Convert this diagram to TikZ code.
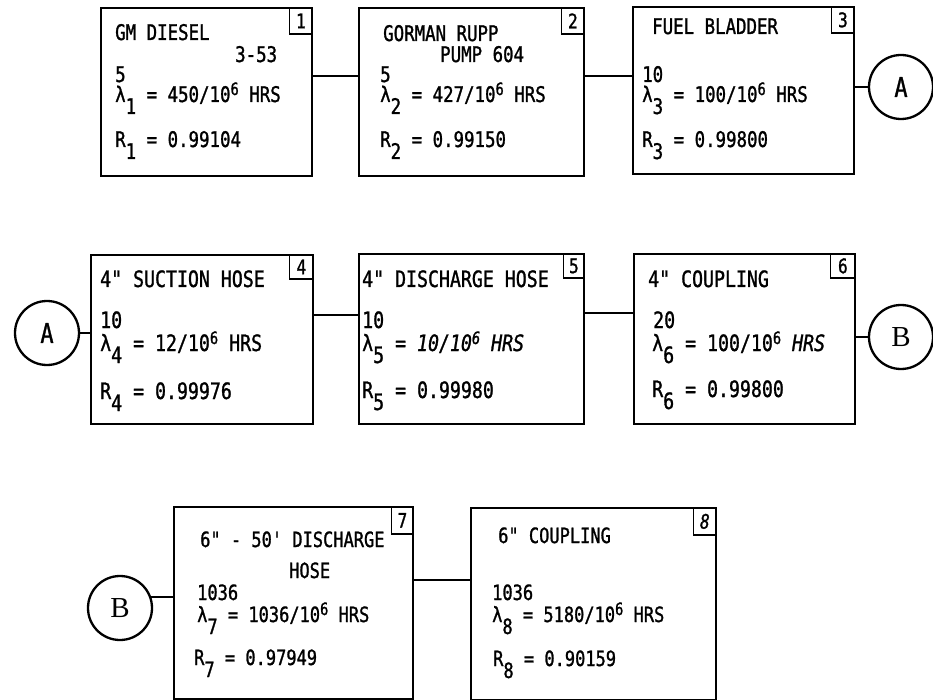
\documentclass[tikz,border=0pt]{standalone}
\usepackage{fontspec}
\newfontfamily\mono[FakeStretch=0.81, FakeBold=1.2]{DejaVu Sans Mono}
\newfontfamily\serifB{Liberation Serif}
\newcommand\sbx[1]{\raisebox{-12pt}{#1}}
\newcommand\spx[1]{\raisebox{7pt}{\fontsize{17}{17}\selectfont #1}}
\begin{document}
\begin{tikzpicture}[x=1pt,y=-1pt,
  blk/.style={draw, line width=2.3pt, anchor=north west, inner sep=0pt},
  num/.style={draw, line width=1.8pt, anchor=north east, inner sep=0pt, minimum width=23pt, minimum height=26pt, font=\mono\fontsize{20}{20}\selectfont},
  txta/.style={anchor=base west, inner sep=0pt, font=\mono\fontsize{21.5}{21.5}\selectfont},
  txtb/.style={anchor=base west, inner sep=0pt, font=\mono\fontsize{22.5}{22.5}\selectfont},
  txtc/.style={anchor=base west, inner sep=0pt, font=\mono\fontsize{21}{21}\selectfont},
  circ/.style={draw, circle, line width=2.3pt, minimum size=64pt, inner sep=0pt},
  conn/.style={line width=2.3pt}]
\path[use as bounding box, fill=white] (0,0) rectangle (933,700);

% ---------- row 1 ----------
\node[blk, minimum width=211pt, minimum height=168pt] (b1) at (100,7) {};
\node[blk, minimum width=225pt, minimum height=168pt] (b2) at (358,7) {};
\node[blk, minimum width=221pt, minimum height=167pt] (b3) at (632,6) {};
\node[num] (n1) at (b1.north east) {1};
\node[num] (n2) at (b2.north east) {2};
\node[num] (n3) at (b3.north east) {3};

\node[txta] (t1a) at (115,40) {GM DIESEL};
\node[txta] (t1b) at (235,62) {3-53};
\node[txta] (t1c) at (115,82) {5};
\node[txta] (t1d) at (115,102) {λ\sbx{1} = 450/10\spx{6} HRS};
\node[txta] (t1e) at (115,147) {R\sbx{1} = 0.99104};

\node[txta] (t2a) at (383,41) {GORMAN RUPP};
\node[txta] (t2b) at (440,62) {PUMP 604};
\node[txta] (t2c) at (380,82) {5};
\node[txta] (t2d) at (380,102) {λ\sbx{2} = 427/10\spx{6} HRS};
\node[txta] (t2e) at (380,147) {R\sbx{2} = 0.99150};

\node[txta] (t3a) at (652,34) {FUEL BLADDER};
\node[txta] (t3c) at (642,82) {10};
\node[txta] (t3d) at (642,102) {λ\sbx{3} = 100/10\spx{6} HRS};
\node[txta] (t3e) at (642,147) {R\sbx{3} = 0.99800};

\node[circ, font=\mono\fontsize{27}{27}\selectfont] (A1) at (901,87) {A};

\coordinate (c12) at ([yshift=-69pt]b1.north east);
\draw[conn] (c12) -- (c12 -| b2.west);
\coordinate (c23) at ([yshift=-69pt]b2.north east);
\draw[conn] (c23) -- (c23 -| b3.west);
\draw[conn] (b3.east |- A1.west) -- (A1.west);

% ---------- row 2 ----------
\node[circ, font=\mono\fontsize{27}{27}\selectfont] (A2) at (47,333) {A};
\node[blk, minimum width=222pt, minimum height=169pt] (b4) at (90,254) {};
\node[blk, minimum width=225pt, minimum height=170pt] (b5) at (358,253) {};
\node[blk, minimum width=221pt, minimum height=170pt] (b6) at (633,253) {};
\node[num, minimum width=24pt, minimum height=24pt] (n4) at (b4.north east) {4};
\node[num, minimum width=21pt, minimum height=24pt] (n5) at (b5.north east) {5};
\node[num, minimum width=25pt, minimum height=24pt] (n6) at (b6.north east) {6};

\node[txtb] (t4a) at (100,287) {4" SUCTION HOSE};
\node[txtb] (t4c) at (100,328) {10};
\node[txtb] (t4d) at (100,351) {λ\sbx{4} = 12/10\spx{6} HRS};
\node[txtb] (t4e) at (100,399) {R\sbx{4} = 0.99976};

\node[txtb] (t5a) at (362,287) {4" DISCHARGE HOSE};
\node[txtb] (t5c) at (362,328) {10};
\node[txtb] (t5d) at (362,351) {λ\sbx{5} = {\itshape 10/10\spx{6} HRS}};
\node[txtb] (t5e) at (362,398) {R\sbx{5} = 0.99980};

\node[txtb] (t6a) at (648,287) {4" COUPLING};
\node[txtb] (t6c) at (653,328) {20};
\node[txtb] (t6d) at (652,351) {λ\sbx{6} = 100/10\spx{6} {\itshape HRS}};
\node[txtb] (t6e) at (652,397) {R\sbx{6} = 0.99800};

\node[circ, font=\fontsize{29}{29}\serifB] (B1) at (901,337) {B};

\draw[conn] (A2.east) -- (A2.east -| b4.west);
\coordinate (c45) at ([yshift=-61pt]b4.north east);
\draw[conn] (c45) -- (c45 -| b5.west);
\coordinate (c56) at ([yshift=-60pt]b5.north east);
\draw[conn] (c56) -- (c56 -| b6.west);
\draw[conn] (b6.east |- B1.west) -- (B1.west);

% ---------- row 3 ----------
\node[circ, font=\fontsize{29}{29}\serifB] (B2) at (120,608) {B};
\node[blk, minimum width=239pt, minimum height=192pt] (b7) at (173,506) {};
\node[blk, minimum width=245pt, minimum height=192pt] (b8) at (470,507) {};
\node[num, minimum width=22pt, minimum height=27pt] (n7) at (b7.north east) {7};
\node[num, minimum width=23pt, minimum height=27pt, font=\mono\fontsize{20}{20}\selectfont\itshape] (n8) at (b8.north east) {8};

\node[txtc] (t7a) at (200,547) {6" - 50' DISCHARGE};
\node[txtc] (t7b) at (289,578) {HOSE};
\node[txtc] (t7c) at (197,600) {1036};
\node[txtc] (t7d) at (197,622) {λ\sbx{7} = 1036/10\spx{6} HRS};
\node[txtc] (t7e) at (194,665) {R\sbx{7} = 0.97949};

\node[txtc] (t8a) at (498,543) {6" COUPLING};
\node[txtc] (t8c) at (492,600) {1036};
\node[txtc] (t8d) at (492,622) {λ\sbx{8} = 5180/10\spx{6} HRS};
\node[txtc] (t8e) at (493,666) {R\sbx{8} = 0.90159};

\draw[conn] (B2.19.5) -- (B2.19.5 -| b7.west);
\coordinate (c78) at ([yshift=-74pt]b7.north east);
\draw[conn] (c78) -- (c78 -| b8.west);
\end{tikzpicture}
\end{document}
